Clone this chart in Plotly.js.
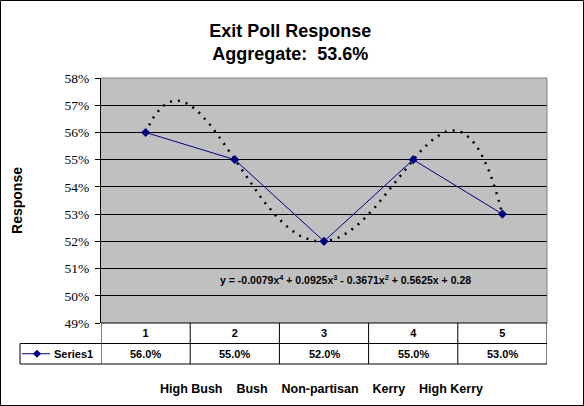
<!DOCTYPE html>
<html>
<head>
<meta charset="utf-8">
<script src="https://cdn.plot.ly/plotly-3.0.1.min.js"></script>
<style>
  html, body { margin: 0; padding: 0; background: #ffffff; }
  #chart { width: 584px; height: 406px; }
</style>
</head>
<body>
<div id="chart"></div>
<script>
// ---- data ----
var categories = [1, 2, 3, 4, 5];
var tickLabels = ['1', '2', '3', '4', '5'];
var seriesName = 'Series1';
var seriesValues = [0.56, 0.55, 0.52, 0.55, 0.53];
var groupLabels = ['High Bush', 'Bush', 'Non-partisan', 'Kerry', 'High Kerry'];
var titleLines = ['Exit Poll Response', 'Aggregate:\u00A0\u00A053.6%'];
var yTitle = 'Response';
var trendEquation = 'y = -0.0079x<sup>4</sup> + 0.0925x<sup>3</sup> - 0.3671x<sup>2</sup> + 0.5625x + 0.28';

// ---- 4th-order polynomial trendline (exact least-squares fit through the 5 points) ----
function polyFit(xs, ys, x) {
  var s = 0;
  for (var i = 0; i < xs.length; i++) {
    var t = ys[i];
    for (var j = 0; j < xs.length; j++) {
      if (j !== i) t *= (x - xs[j]) / (xs[i] - xs[j]);
    }
    s += t;
  }
  return s;
}
var trendX = [], trendY = [];
for (var k = 0; k <= 120; k++) {
  var xv = 1 + k * (4 / 120);
  trendX.push(xv);
  trendY.push(polyFit(categories, seriesValues, xv));
}

// ---- geometry helpers (pixel -> paper) ----
var W = 584, H = 406, L = 101, R = 37, T = 78, B = 83;
var PW = W - L - R, PH = H - T - B;
function px(x) { return (x - L) / PW; }
function py(y) { return (H - B - y) / PH; }

var row1 = py(343.5), row2 = py(364);
var legLeft = px(20);
var rowMid = (row1 + row2) / 2;
var FONT = 'Arial, "Liberation Sans", sans-serif';

var shapes = [];
// outer chart border
shapes.push({type: 'rect', xref: 'paper', yref: 'paper', x0: px(0.5), x1: px(583.5), y0: py(405.5), y1: py(0.5),
  line: {color: '#000', width: 1}});
// plot area border (top, right) gray
shapes.push({type: 'line', xref: 'paper', yref: 'paper', x0: 0, x1: 1, y0: 1, y1: 1, line: {color: '#808080', width: 1}});
shapes.push({type: 'line', xref: 'paper', yref: 'paper', x0: 1, x1: 1, y0: 0, y1: 1, line: {color: '#808080', width: 1}});
// data table lines
shapes.push({type: 'line', xref: 'paper', yref: 'paper', x0: 0, x1: 1, y0: 0, y1: 0, line: {color: '#000', width: 1}});
shapes.push({type: 'line', xref: 'paper', yref: 'paper', x0: legLeft, x1: 1, y0: row1, y1: row1, line: {color: '#000', width: 1}});
shapes.push({type: 'line', xref: 'paper', yref: 'paper', x0: legLeft, x1: 1, y0: row2, y1: row2, line: {color: '#000', width: 1}});
shapes.push({type: 'line', xref: 'paper', yref: 'paper', x0: legLeft, x1: legLeft, y0: row1, y1: row2, line: {color: '#000', width: 1}});
for (var c = 0; c <= categories.length; c++) {
  shapes.push({type: 'line', xref: 'x', yref: 'paper', x0: categories[0] - 0.5 + c, x1: categories[0] - 0.5 + c,
    y0: 0, y1: row2, line: {color: '#000', width: 1}});
}
// legend key inside the table
var keyY = rowMid;
shapes.push({type: 'line', xref: 'paper', yref: 'paper', x0: px(22), x1: px(50), y0: keyY, y1: keyY,
  line: {color: '#000080', width: 1}});
var dx = 3.5 / PW, dy = 3.5 / PH, cx = px(37);
shapes.push({type: 'path', xref: 'paper', yref: 'paper',
  path: 'M ' + (cx - dx) + ' ' + keyY + ' L ' + cx + ' ' + (keyY + dy) + ' L ' + (cx + dx) + ' ' + keyY + ' L ' + cx + ' ' + (keyY - dy) + ' Z',
  fillcolor: '#000080', line: {color: '#000080', width: 1}});

var annotations = [];
// table values row
for (var i = 0; i < categories.length; i++) {
  annotations.push({xref: 'x', yref: 'paper', x: categories[i], y: rowMid, yanchor: 'middle', xanchor: 'center',
    text: '<b>' + (seriesValues[i] * 100).toFixed(1) + '%</b>', showarrow: false,
    font: {family: FONT, size: 11, color: '#000'}});
}
annotations.push({xref: 'paper', yref: 'paper', x: px(52), y: rowMid, xanchor: 'left', yanchor: 'middle',
  text: '<b>' + seriesName + '</b>', showarrow: false, font: {family: FONT, size: 11, color: '#000'}});
// group label line
annotations.push({xref: 'paper', yref: 'paper', x: px(321), y: py(389), xanchor: 'center', yanchor: 'middle',
  text: '<b>' + groupLabels.join('\u00A0\u00A0\u00A0\u00A0') + '</b>', showarrow: false,
  font: {family: FONT, size: 12.5, color: '#000'}});
// trendline equation
annotations.push({xref: 'paper', yref: 'paper', x: px(345), y: py(279), xanchor: 'center', yanchor: 'middle',
  text: '<b>' + trendEquation + '</b>', showarrow: false, font: {family: FONT, size: 10.5, color: '#000'}});

var traces = [
  {x: trendX, y: trendY, type: 'scatter', mode: 'lines', hoverinfo: 'skip', showlegend: false,
   line: {color: '#000', width: 2.5, dash: '2px,6px'}},
  {x: categories, y: seriesValues, type: 'scatter', mode: 'lines+markers', name: seriesName, showlegend: false,
   line: {color: '#000080', width: 1}, marker: {symbol: 'diamond', size: 7, color: '#000080'}}
];

var layout = {
  width: W, height: H,
  margin: {l: L, r: R, t: T, b: B, pad: 0},
  paper_bgcolor: '#ffffff',
  plot_bgcolor: '#c0c0c0',
  showlegend: false,
  title: {text: '<b>' + titleLines[0] + '</b><br><b>' + titleLines[1] + '</b>',
    x: 0.497, xanchor: 'center', xref: 'container', y: 1 - 37 / H, yanchor: 'middle', yref: 'container',
    font: {family: FONT, size: 18, color: '#000'}},
  xaxis: {type: 'linear', range: [0.5, 5.5], tickvals: categories, ticktext: tickLabels.map(function (t) { return '<b>' + t + '</b>'; }),
    showgrid: false, zeroline: false, showline: false, ticks: '', ticklabelstandoff: 2,
    tickfont: {family: FONT, size: 11, color: '#000'}, fixedrange: true},
  yaxis: {range: [0.49, 0.58], dtick: 0.01, tick0: 0.49, tickformat: '.0%',
    showgrid: true, gridcolor: '#000', gridwidth: 1, zeroline: false,
    showline: true, linecolor: '#000', linewidth: 1, ticks: 'outside', ticklen: 5, tickcolor: '#000',
    ticklabelstandoff: 3,
    tickfont: {family: '"Liberation Serif", "Times New Roman", serif', size: 13.5, color: '#000'},
    title: {text: '<b>' + yTitle + '</b>', standoff: 38, font: {family: FONT, size: 14, color: '#000'}},
    fixedrange: true},
  shapes: shapes,
  annotations: annotations
};

Plotly.newPlot('chart', traces, layout, {staticPlot: true, displayModeBar: false});
</script>
</body>
</html>
